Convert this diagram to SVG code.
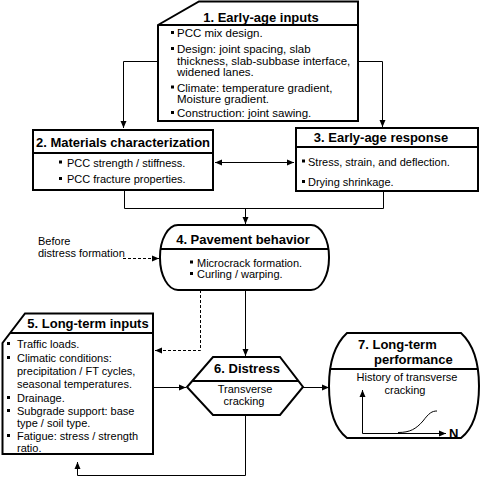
<svg xmlns="http://www.w3.org/2000/svg" xmlns:xlink="http://www.w3.org/1999/xlink" width="482" height="480" viewBox="0 0 482 480">
<style>
.box{fill:#fff;stroke:#000;stroke-width:2}
.div{fill:none;stroke:#000;stroke-width:2}
.c{fill:none;stroke:#000;stroke-width:1}
.d{stroke-dasharray:3,2}
.t{font-family:"Liberation Sans",Arial,sans-serif;font-weight:bold;font-size:13px;fill:#000}
.b{font-family:"Liberation Sans",Arial,sans-serif;font-size:11px;fill:#000}
.b1{font-size:11.5px}
</style>
<defs>
<marker id="ah" markerUnits="userSpaceOnUse" markerWidth="8" markerHeight="7" refX="7" refY="3.5" orient="auto-start-reverse"><path d="M0,0.5 L7,3.5 L0,6.5 Z" fill="#000"/></marker>
<rect id="bul" width="3" height="3" fill="#000"/>
</defs>
<rect width="482" height="480" fill="#fff"/>

<g id="connectors">
<path class="c" d="M157,61.5 H123.5 V128" marker-end="url(#ah)"/>
<path class="c" d="M358,61.5 H382.5 V127" marker-end="url(#ah)"/>
<path class="c" d="M124.5,191 V208.5 H383.5 V191"/>
<path class="c" d="M245.5,208.5 V224" marker-end="url(#ah)"/>
<path class="c" d="M215,162.5 H294" marker-start="url(#ah)" marker-end="url(#ah)"/>
<path class="c d" d="M123,258.5 H159" marker-end="url(#ah)"/>
<path class="c d" d="M200.5,290 V350.5 H155"/>
<path class="c" d="M158,350.5 H155" marker-end="url(#ah)"/>
<path class="c" d="M245.5,290 V356" marker-end="url(#ah)"/>
<path class="c" d="M153,387.5 H186" marker-end="url(#ah)"/>
<path class="c" d="M303,387.5 H329" marker-end="url(#ah)"/>
<path class="c" d="M245.5,415 V475.5 H77.5 V462" marker-end="url(#ah)"/>
</g>

<g id="n1">
<path class="box" d="M158,25 L199,1.5 H358 V121 H158 Z"/>
<path class="div" d="M158,25 H358"/>
<text class="t" x="261" y="21.5" text-anchor="middle">1. Early-age inputs</text>
<use xlink:href="#bul" x="171" y="31"/>
<text class="b b1" x="177" y="37">PCC mix design.</text>
<use xlink:href="#bul" x="171" y="47"/>
<text class="b b1" x="177" y="53">Design: joint spacing, slab</text>
<text class="b b1" x="177" y="65">thickness, slab-subbase interface,</text>
<text class="b b1" x="177" y="76">widened lanes.</text>
<use xlink:href="#bul" x="171" y="85.5"/>
<text class="b b1" x="177" y="91.5">Climate: temperature gradient,</text>
<text class="b b1" x="177" y="102.5">Moisture gradient.</text>
<use xlink:href="#bul" x="171" y="111"/>
<text class="b b1" x="177" y="117">Construction: joint sawing.</text>
</g>

<g id="n2">
<rect class="box" x="33" y="130" width="180" height="60"/>
<path class="div" d="M33,153 H213"/>
<text class="t" x="123" y="147" text-anchor="middle">2. Materials characterization</text>
<use xlink:href="#bul" x="59" y="160.5"/>
<text class="b" x="67" y="166.5">PCC strength / stiffness.</text>
<use xlink:href="#bul" x="59" y="177"/>
<text class="b" x="67" y="183">PCC fracture properties.</text>
</g>

<g id="n3">
<rect class="box" x="296" y="128" width="182" height="63"/>
<path class="div" d="M296,147 H478"/>
<text class="t" x="381" y="142" text-anchor="middle">3. Early-age response</text>
<use xlink:href="#bul" x="302" y="159.5"/>
<text class="b" x="308" y="165.5">Stress, strain, and deflection.</text>
<use xlink:href="#bul" x="302" y="180"/>
<text class="b" x="308" y="186">Drying shrinkage.</text>
</g>

<g id="n4">
<rect class="box" x="160" y="225" width="169" height="65" rx="18" ry="32"/>
<path class="div" d="M161,249 H328"/>
<text class="t" x="243" y="244" text-anchor="middle">4. Pavement behavior</text>
<use xlink:href="#bul" x="190" y="260.5"/>
<text class="b" x="197" y="266.5">Microcrack formation.</text>
<use xlink:href="#bul" x="190" y="272"/>
<text class="b" x="197" y="278">Curling / warping.</text>
</g>

<g id="note">
<text class="b" x="38" y="245">Before</text>
<text class="b" x="38" y="257">distress formation</text>
</g>

<g id="n5">
<path class="box" d="M25,313.5 H153 V454 H2.5 V343 Z"/>
<path class="div" d="M10,333 H153"/>
<text class="t" x="88" y="328" text-anchor="middle">5. Long-term inputs</text>
<use xlink:href="#bul" x="7" y="342"/>
<text class="b" x="17" y="348">Traffic loads.</text>
<use xlink:href="#bul" x="7" y="356"/>
<text class="b" x="17" y="362">Climatic conditions:</text>
<text class="b" x="17" y="375">precipitation / FT cycles,</text>
<text class="b" x="17" y="388">seasonal temperatures.</text>
<use xlink:href="#bul" x="7" y="396"/>
<text class="b" x="17" y="402">Drainage.</text>
<use xlink:href="#bul" x="7" y="409"/>
<text class="b" x="17" y="415">Subgrade support: base</text>
<text class="b" x="17" y="427">type / soil type.</text>
<use xlink:href="#bul" x="7" y="434"/>
<text class="b" x="17" y="440">Fatigue: stress / strength</text>
<text class="b" x="17" y="452">ratio.</text>
</g>

<g id="n6">
<polygon class="box" points="213,357 280,357 303,387 280,415 213,415 187,387"/>
<path class="div" d="M192.5,381 H298"/>
<text class="t" x="247" y="373" text-anchor="middle">6. Distress</text>
<text class="b" x="245" y="393" text-anchor="middle">Transverse</text>
<text class="b" x="244" y="405" text-anchor="middle">cracking</text>
</g>

<g id="n7">
<path class="box" d="M347,333 H461 C474,345 479,365 479,386 C479,410 474,428 461,438 H347 C334,428 329,410 329,386 C329,365 334,345 347,333 Z"/>
<path class="div" d="M330,369 H478"/>
<text class="t" x="358" y="349">7. Long-term</text>
<text class="t" x="374" y="364">performance</text>
<text class="b" x="407" y="381" text-anchor="middle">History of transverse</text>
<text class="b" x="405" y="394" text-anchor="middle">cracking</text>
<path class="c" d="M362.5,433.5 V390" marker-end="url(#ah)"/>
<path class="c" d="M362.5,433.5 H446" marker-end="url(#ah)"/>
<path class="c" d="M398,432.5 C410,432.5 416,429 423,421 C429,413 432,411 437,411"/>
<text class="t" x="449" y="438" font-size="12">N</text>
</g>
</svg>
